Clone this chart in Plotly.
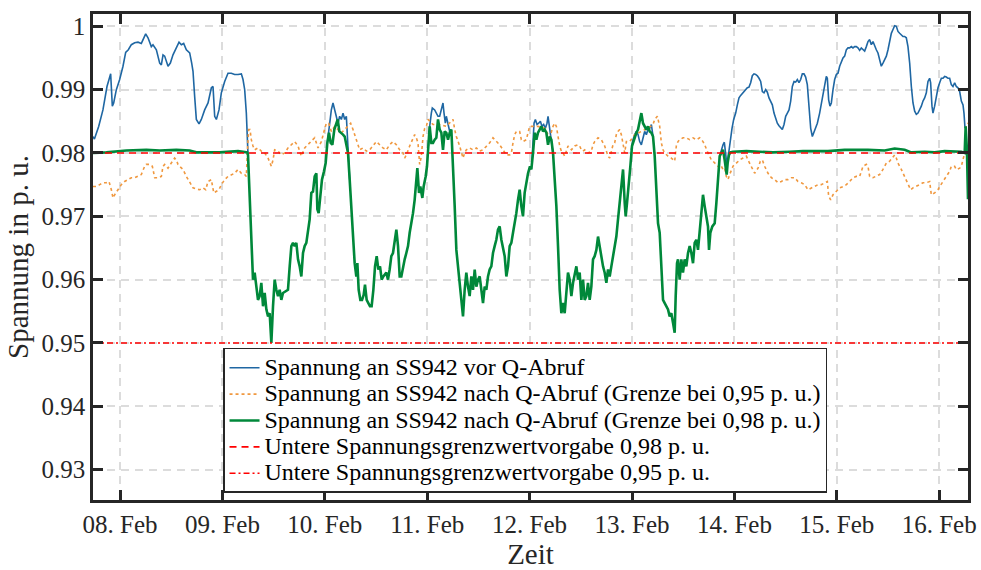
import datetime as dt
import plotly.graph_objects as go

# ---------------- data (hours relative to 08 Feb 00:00, voltage in p.u.) ----------------
blue_seg_hours = [
    [-6.33, -6.0, -5.0, -4.0, -3.05, -2.42, -2.19, -1.8, -1.48, -0.86,
     -0.08, 0.70, 1.33, 1.95, 2.66, 3.44, 4.22, 5.0, 5.39, 6.02,
     6.56, 7.34, 7.73, 8.52, 9.3, 9.69, 10.08, 10.47, 11.25, 11.8,
     12.42, 13.2, 13.83, 14.38, 14.92, 15.55, 16.33, 16.8, 17.11, 17.5,
     17.89, 18.52, 19.06, 19.84, 20.63, 21.41, 21.8, 22.19, 22.58, 23.2,
     23.75, 24.53, 25.31, 26.09, 26.87, 27.66, 28.44, 28.83, 29.22, 29.61,
     29.84, 30.0],
    [48.59, 49.14, 49.53, 49.92, 50.31, 50.7, 51.09, 51.48, 51.88, 52.27,
     52.66, 53.05, 53.44, 53.83],
    [72.27, 72.58, 72.97, 73.2, 73.75, 74.14, 74.53, 74.92, 75.31, 75.7,
     75.94, 76.25, 76.48, 76.88, 77.27, 77.66],
    [96.57, 97.04, 97.35, 97.74, 98.13, 98.52, 98.91, 99.3, 99.69, 100.08,
     100.32, 100.55, 100.86, 101.25, 101.57],
    [119.85, 120.24, 120.63, 121.02, 121.41, 121.8, 122.19, 122.58, 122.97, 123.36,
     123.75, 124.15, 124.54, 124.93],
    [140.55, 140.94, 141.33, 141.64, 141.95, 142.27, 142.66, 143.05, 143.44, 143.83,
     144.3, 144.69, 145.08, 145.47, 145.86, 146.25, 146.64, 147.03, 147.42, 147.81,
     148.2, 148.59, 148.98, 149.38, 149.77, 150.16, 150.55, 150.94, 151.33, 151.72,
     152.11, 152.5, 152.89, 153.28, 153.67, 154.06, 154.45, 154.84, 155.23, 155.63,
     156.02, 156.41, 156.8, 157.19, 157.58, 157.97, 158.36, 158.75, 159.14, 159.53,
     159.92, 160.31, 160.7, 161.09, 161.48, 161.88, 162.27, 162.66, 163.05, 163.44,
     163.98, 164.37, 164.76, 165.15, 165.54, 165.78, 166.09, 166.4, 166.72, 167.11,
     167.5, 167.89, 168.28, 168.67, 169.06, 169.45, 169.84, 170.23, 170.62, 171.01,
     171.4, 171.79, 172.18, 172.57, 172.96, 173.36, 173.75, 174.14, 174.53, 174.92,
     175.31, 175.7, 176.09, 176.48, 176.87, 177.26, 177.65, 178.04, 178.43, 178.82,
     179.22, 179.61, 180.0, 180.39, 180.78, 181.17, 181.56, 181.95, 182.34, 182.73,
     183.12, 183.51, 183.9, 184.29, 184.68, 185.08, 185.47, 185.86, 186.25, 186.64,
     187.03, 187.42, 187.81, 188.2, 188.59, 188.98, 189.37, 189.76, 189.99, 190.31,
     190.54, 190.93, 191.33, 191.72, 192.11, 192.5, 192.89, 193.28, 193.67, 194.06,
     194.45, 194.84, 195.23, 195.62, 196.01, 196.4, 196.8, 197.19, 197.58, 197.81,
     198.05],
]
blue_seg_values = [
    [0.9826, 0.9822, 0.9842, 0.9868, 0.9905, 0.9921, 0.9925, 0.9874, 0.9879, 0.9900,
     0.9916, 0.9937, 0.9959, 0.9963, 0.9971, 0.9974, 0.9975, 0.9973, 0.9978, 0.9988,
     0.9982, 0.9968, 0.9971, 0.9963, 0.9942, 0.9939, 0.9955, 0.9953, 0.9937, 0.9942,
     0.9955, 0.9966, 0.9975, 0.9971, 0.9973, 0.9963, 0.9958, 0.9942, 0.9929, 0.9889,
     0.9853, 0.9846, 0.9853, 0.9868, 0.9879, 0.9903, 0.9905, 0.9858, 0.9853, 0.9868,
     0.9895, 0.9913, 0.9926, 0.9926, 0.9924, 0.9924, 0.9925, 0.9916, 0.9900, 0.9863,
     0.9811, 0.9797],
    [0.9816, 0.9847, 0.9868, 0.9879, 0.9868, 0.9853, 0.9847, 0.9858, 0.9853, 0.9863,
     0.9853, 0.9858, 0.9811, 0.9758],
    [0.9811, 0.9842, 0.9863, 0.9871, 0.9868, 0.9863, 0.9858, 0.9858, 0.9868, 0.9879,
     0.9863, 0.9847, 0.9858, 0.9847, 0.9834, 0.9837],
    [0.9789, 0.9847, 0.9853, 0.9845, 0.9847, 0.9850, 0.9842, 0.9845, 0.9839, 0.9847,
     0.9858, 0.9847, 0.9834, 0.9816, 0.9795],
    [0.9805, 0.9821, 0.9829, 0.9834, 0.9829, 0.9818, 0.9813, 0.9826, 0.9834, 0.9829,
     0.9837, 0.9839, 0.9845, 0.9826],
    [0.9795, 0.9805, 0.9813, 0.9817, 0.9800, 0.9780, 0.9800, 0.9821, 0.9839, 0.9853,
     0.9863, 0.9876, 0.9887, 0.9891, 0.9894, 0.9896, 0.9899, 0.9903, 0.9904, 0.9911,
     0.9922, 0.9925, 0.9924, 0.9922, 0.9918, 0.9913, 0.9897, 0.9895, 0.9900, 0.9896,
     0.9887, 0.9882, 0.9876, 0.9863, 0.9853, 0.9847, 0.9843, 0.9839, 0.9837, 0.9845,
     0.9858, 0.9863, 0.9868, 0.9882, 0.9905, 0.9913, 0.9912, 0.9916, 0.9911, 0.9916,
     0.9925, 0.9925, 0.9920, 0.9908, 0.9874, 0.9839, 0.9826, 0.9834, 0.9841, 0.9847,
     0.9863, 0.9879, 0.9895, 0.9911, 0.9921, 0.9918, 0.9884, 0.9874, 0.9879, 0.9900,
     0.9916, 0.9924, 0.9926, 0.9937, 0.9945, 0.9950, 0.9953, 0.9963, 0.9966, 0.9966,
     0.9968, 0.9966, 0.9968, 0.9968, 0.9966, 0.9962, 0.9966, 0.9963, 0.9961, 0.9968,
     0.9976, 0.9979, 0.9971, 0.9976, 0.9968, 0.9963, 0.9958, 0.9947, 0.9937, 0.9942,
     0.9947, 0.9953, 0.9963, 0.9979, 0.9989, 0.9995, 1.0001, 1.0000, 0.9992, 0.9989,
     0.9987, 0.9984, 0.9984, 0.9982, 0.9968, 0.9942, 0.9905, 0.9879, 0.9866, 0.9861,
     0.9863, 0.9868, 0.9874, 0.9882, 0.9887, 0.9895, 0.9913, 0.9918, 0.9911, 0.9874,
     0.9863, 0.9874, 0.9889, 0.9903, 0.9911, 0.9918, 0.9918, 0.9921, 0.9920, 0.9918,
     0.9918, 0.9908, 0.9905, 0.9911, 0.9905, 0.9903, 0.9897, 0.9882, 0.9876, 0.9863,
     0.9839],
]

orange_hours = [
    -6.33, -5.55, -4.77, -3.98, -3.2, -2.58, -2.03, -1.64, -1.25, -0.47,
    0.31, 1.09, 1.87, 2.66, 3.44, 4.22, 5.0, 5.78, 6.17, 6.95,
    7.58, 8.13, 8.91, 9.69, 10.08, 10.47, 11.25, 11.8, 12.42, 12.81,
    13.2, 13.59, 13.98, 14.77, 15.55, 16.33, 17.11, 17.89, 18.67, 19.45,
    20.08, 20.63, 21.41, 21.97, 22.58, 23.2, 23.75, 24.53, 25.31, 26.09,
    26.87, 27.66, 28.44, 29.22, 29.61, 29.84, 30.16, 30.47, 30.78, 31.17,
    31.56, 32.34, 33.12, 33.91, 34.69, 35.47, 35.86, 36.25, 37.03, 37.81,
    38.59, 39.37, 40.16, 40.94, 41.72, 42.5, 43.28, 44.06, 44.84, 45.63,
    46.41, 47.19, 47.81, 48.36, 48.91, 49.53, 50.31, 51.09, 51.88, 52.66,
    53.44, 54.06, 54.61, 55.39, 56.17, 56.95, 57.73, 58.52, 59.3, 60.08,
    60.86, 61.64, 62.42, 63.2, 63.98, 64.77, 65.55, 66.33, 66.72, 67.11,
    67.89, 68.67, 69.06, 69.45, 69.84, 70.23, 70.63, 71.02, 71.41, 71.8,
    72.19, 73.36, 74.92, 76.48, 77.66, 78.05, 78.44, 78.83, 79.61, 80.39,
    80.78, 81.17, 81.95, 82.73, 83.52, 84.3, 85.08, 85.86, 86.64, 87.42,
    88.2, 88.98, 89.77, 90.55, 91.33, 91.72, 92.11, 92.5, 92.89, 93.67,
    94.06, 94.45, 95.23, 96.0, 96.41, 97.97, 99.53, 100.71, 101.49, 101.88,
    102.27, 102.66, 103.05, 103.44, 103.83, 104.22, 104.61, 105.0, 105.39, 105.79,
    106.57, 107.35, 107.74, 108.13, 108.52, 108.91, 109.69, 110.47, 110.86, 111.25,
    112.04, 112.82, 113.6, 114.38, 114.77, 115.16, 115.55, 115.94, 116.33, 116.72,
    117.11, 117.5, 117.9, 118.29, 118.68, 119.46, 120.63, 122.19, 123.75, 124.93,
    125.32, 125.94, 126.49, 126.88, 127.27, 127.66, 128.44, 129.22, 130.0, 130.39,
    130.78, 131.17, 131.95, 132.73, 133.52, 134.3, 135.08, 135.86, 136.25, 136.64,
    137.03, 137.42, 137.81, 138.2, 138.59, 138.98, 139.38, 139.77, 140.16, 140.55,
    140.94, 141.33, 141.72, 142.11, 142.5, 142.89, 143.28, 143.67, 144.45, 145.23,
    146.02, 146.8, 147.19, 147.97, 148.75, 149.53, 150.08, 150.55, 151.09, 151.88,
    152.66, 153.44, 154.22, 155.0, 155.78, 156.56, 157.34, 158.13, 158.91, 159.69,
    160.47, 161.25, 162.03, 162.81, 163.59, 164.37, 165.15, 165.78, 166.09, 166.56,
    167.11, 167.89, 168.67, 169.45, 170.23, 171.01, 171.79, 172.57, 173.36, 174.14,
    174.92, 175.31, 175.7, 176.48, 177.26, 178.04, 178.82, 179.61, 180.39, 181.17,
    181.56, 181.95, 182.34, 183.12, 183.9, 184.68, 185.31, 185.86, 186.64, 187.42,
    188.2, 188.98, 189.76, 190.15, 190.93, 191.72, 192.11, 192.89, 193.67, 194.45,
    194.84, 195.62, 196.01, 196.8, 197.19, 197.58, 197.97, 198.36, 198.75,
]
orange_values = [
    0.9747, 0.9747, 0.9750, 0.9753, 0.9753, 0.9755, 0.9742, 0.9729, 0.9734, 0.9742,
    0.9750, 0.9755, 0.9758, 0.9761, 0.9761, 0.9763, 0.9766, 0.9779, 0.9782, 0.9782,
    0.9779, 0.9761, 0.9761, 0.9763, 0.9779, 0.9782, 0.9776, 0.9782, 0.9789, 0.9792,
    0.9789, 0.9782, 0.9779, 0.9774, 0.9763, 0.9755, 0.9745, 0.9743, 0.9742, 0.9745,
    0.9742, 0.9755, 0.9758, 0.9737, 0.9739, 0.9742, 0.9750, 0.9758, 0.9763, 0.9766,
    0.9768, 0.9774, 0.9768, 0.9766, 0.9763, 0.9800, 0.9837, 0.9837, 0.9821, 0.9811,
    0.9805, 0.9808, 0.9803, 0.9800, 0.9792, 0.9779, 0.9789, 0.9805, 0.9803, 0.9797,
    0.9800, 0.9808, 0.9813, 0.9818, 0.9811, 0.9795, 0.9808, 0.9813, 0.9818, 0.9824,
    0.9808, 0.9818, 0.9834, 0.9847, 0.9847, 0.9834, 0.9842, 0.9837, 0.9832, 0.9837,
    0.9842, 0.9847, 0.9837, 0.9821, 0.9805, 0.9808, 0.9803, 0.9805, 0.9811, 0.9818,
    0.9813, 0.9808, 0.9805, 0.9813, 0.9818, 0.9813, 0.9805, 0.9800, 0.9792, 0.9797,
    0.9811, 0.9824, 0.9829, 0.9824, 0.9816, 0.9782, 0.9795, 0.9826, 0.9839, 0.9842,
    0.9853, 0.9845, 0.9845, 0.9842, 0.9850, 0.9853, 0.9837, 0.9826, 0.9811, 0.9792,
    0.9800, 0.9805, 0.9808, 0.9805, 0.9808, 0.9803, 0.9805, 0.9811, 0.9816, 0.9824,
    0.9818, 0.9813, 0.9805, 0.9797, 0.9797, 0.9800, 0.9816, 0.9829, 0.9834, 0.9834,
    0.9821, 0.9818, 0.9821, 0.9842, 0.9842, 0.9842, 0.9839, 0.9824, 0.9842, 0.9847,
    0.9842, 0.9826, 0.9811, 0.9803, 0.9800, 0.9795, 0.9805, 0.9811, 0.9808, 0.9805,
    0.9811, 0.9813, 0.9811, 0.9805, 0.9803, 0.9805, 0.9800, 0.9803, 0.9813, 0.9818,
    0.9824, 0.9821, 0.9811, 0.9795, 0.9792, 0.9803, 0.9813, 0.9816, 0.9829, 0.9834,
    0.9837, 0.9829, 0.9816, 0.9800, 0.9818, 0.9818, 0.9829, 0.9834, 0.9839, 0.9845,
    0.9853, 0.9858, 0.9842, 0.9816, 0.9805, 0.9800, 0.9795, 0.9792, 0.9787, 0.9811,
    0.9818, 0.9821, 0.9824, 0.9824, 0.9821, 0.9824, 0.9821, 0.9824, 0.9821, 0.9818,
    0.9813, 0.9805, 0.9800, 0.9795, 0.9789, 0.9787, 0.9784, 0.9782, 0.9779, 0.9782,
    0.9779, 0.9774, 0.9776, 0.9763, 0.9758, 0.9766, 0.9774, 0.9779, 0.9784, 0.9789,
    0.9792, 0.9795, 0.9789, 0.9779, 0.9768, 0.9776, 0.9787, 0.9789, 0.9779, 0.9768,
    0.9761, 0.9758, 0.9753, 0.9755, 0.9758, 0.9758, 0.9761, 0.9761, 0.9755, 0.9753,
    0.9750, 0.9742, 0.9745, 0.9747, 0.9750, 0.9750, 0.9753, 0.9755, 0.9732, 0.9726,
    0.9734, 0.9739, 0.9745, 0.9747, 0.9750, 0.9755, 0.9761, 0.9763, 0.9763, 0.9779,
    0.9782, 0.9779, 0.9763, 0.9761, 0.9763, 0.9766, 0.9774, 0.9784, 0.9787, 0.9795,
    0.9797, 0.9792, 0.9784, 0.9774, 0.9763, 0.9753, 0.9742, 0.9745, 0.9747, 0.9750,
    0.9753, 0.9753, 0.9755, 0.9734, 0.9737, 0.9742, 0.9747, 0.9755, 0.9763, 0.9771,
    0.9779, 0.9779, 0.9774, 0.9776, 0.9779, 0.9789, 0.9800, 0.9845, 0.9847,
]

green_hours = [
    -6.33, -3.2, 1.48, 6.17, 9.3, 13.2, 16.33, 17.89, 20.23, 23.36,
    27.66, 29.84, 30.0, 30.39, 30.78, 31.17, 31.56, 31.95, 32.34, 32.73,
    33.12, 33.52, 33.91, 34.3, 34.69, 35.08, 35.47, 35.86, 36.25, 36.64,
    37.03, 37.42, 37.81, 38.2, 38.98, 39.37, 39.77, 40.16, 40.55, 40.94,
    41.33, 41.72, 42.11, 42.5, 42.89, 43.28, 43.67, 44.06, 44.45, 44.84,
    45.23, 45.63, 46.02, 46.25, 46.56, 46.95, 47.34, 47.81, 48.2, 48.59,
    48.98, 49.38, 49.77, 50.23, 50.63, 51.02, 51.41, 51.88, 52.27, 52.66,
    53.05, 53.44, 53.83, 54.22, 54.61, 55.0, 55.39, 55.63, 55.94, 56.33,
    56.72, 57.11, 57.42, 57.81, 58.2, 58.59, 58.98, 59.38, 59.77, 60.16,
    60.55, 60.94, 61.33, 61.72, 62.42, 62.81, 63.2, 63.59, 63.98, 64.38,
    64.77, 65.16, 65.55, 65.94, 66.33, 66.72, 67.11, 67.5, 67.89, 68.28,
    68.67, 69.06, 69.45, 69.69, 70.08, 70.39, 70.86, 71.17, 71.64, 71.95,
    72.27, 72.58, 72.97, 73.36, 73.75, 74.14, 74.53, 74.92, 75.31, 75.7,
    76.09, 76.48, 76.88, 77.27, 77.66, 78.05, 78.44, 78.83, 79.22, 79.61,
    80.0, 80.39, 80.78, 81.17, 81.56, 81.95, 82.34, 82.73, 83.13, 83.52,
    83.91, 84.3, 84.69, 85.08, 85.47, 85.86, 86.25, 86.64, 87.03, 87.42,
    87.81, 88.2, 88.59, 88.98, 89.38, 89.77, 90.16, 90.55, 90.94, 91.33,
    91.72, 92.11, 92.5, 92.89, 93.28, 93.67, 94.06, 94.45, 94.84, 95.23,
    95.63, 96.09, 96.41, 96.8, 97.19, 97.58, 97.97, 98.36, 98.75, 99.14,
    99.53, 99.93, 100.32, 100.71, 101.1, 101.49, 101.88, 102.27, 102.66, 103.05,
    103.44, 103.83, 104.22, 104.61, 105.0, 105.39, 105.79, 106.18, 106.57, 106.96,
    107.35, 107.74, 108.13, 108.52, 108.91, 109.3, 109.69, 110.08, 110.47, 110.86,
    111.25, 111.65, 112.04, 112.43, 112.82, 113.21, 113.6, 113.99, 114.38, 114.77,
    115.16, 115.55, 115.94, 116.33, 116.72, 117.11, 117.5, 117.9, 118.29, 118.52,
    118.83, 119.22, 119.61, 120.0, 120.4, 120.63, 121.02, 121.41, 121.8, 122.19,
    122.58, 122.97, 123.36, 123.75, 124.15, 124.54, 124.93, 125.32, 125.71, 126.1,
    126.49, 126.88, 127.27, 127.66, 128.05, 128.44, 128.83, 129.22, 129.61, 130.0,
    130.24, 130.55, 130.78, 131.17, 131.56, 131.95, 132.34, 132.73, 133.13, 133.52,
    133.91, 134.3, 134.69, 135.08, 135.47, 135.86, 136.25, 136.64, 137.03, 137.42,
    137.81, 138.05, 138.36, 138.83, 139.38, 139.77, 140.16, 140.55, 140.94, 141.33,
    141.72, 141.95, 142.19, 142.42, 142.73, 143.05, 143.67, 146.8, 153.05, 156.95,
    160.08, 165.93, 169.84, 175.31, 179.22, 181.56, 183.9, 185.47, 188.59, 190.93,
    193.28, 197.19, 197.97, 198.2, 198.5, 198.75,
]
green_values = [
    0.9800, 0.9801, 0.9804, 0.9805, 0.9804, 0.9805, 0.9804, 0.9801, 0.9801, 0.9801,
    0.9803, 0.9801, 0.9797, 0.9732, 0.9653, 0.9600, 0.9611, 0.9584, 0.9568, 0.9574,
    0.9595, 0.9558, 0.9579, 0.9553, 0.9542, 0.9547, 0.9500, 0.9558, 0.9600, 0.9584,
    0.9574, 0.9584, 0.9568, 0.9579, 0.9582, 0.9584, 0.9621, 0.9653, 0.9658, 0.9653,
    0.9658, 0.9632, 0.9621, 0.9605, 0.9642, 0.9653, 0.9658, 0.9679, 0.9695, 0.9737,
    0.9739, 0.9763, 0.9768, 0.9711, 0.9705, 0.9732, 0.9758, 0.9771, 0.9784, 0.9816,
    0.9832, 0.9816, 0.9813, 0.9837, 0.9847, 0.9853, 0.9834, 0.9832, 0.9829, 0.9826,
    0.9811, 0.9800, 0.9758, 0.9716, 0.9663, 0.9626, 0.9605, 0.9626, 0.9584, 0.9568,
    0.9568, 0.9576, 0.9592, 0.9568, 0.9563, 0.9558, 0.9558, 0.9584, 0.9621, 0.9637,
    0.9616, 0.9621, 0.9600, 0.9605, 0.9611, 0.9600, 0.9616, 0.9637, 0.9642, 0.9663,
    0.9679, 0.9653, 0.9605, 0.9605, 0.9621, 0.9632, 0.9642, 0.9653, 0.9674, 0.9689,
    0.9705, 0.9726, 0.9768, 0.9776, 0.9737, 0.9747, 0.9729, 0.9747, 0.9763, 0.9779,
    0.9811, 0.9842, 0.9816, 0.9816, 0.9821, 0.9824, 0.9853, 0.9837, 0.9832, 0.9805,
    0.9834, 0.9832, 0.9821, 0.9832, 0.9837, 0.9784, 0.9716, 0.9647, 0.9621, 0.9584,
    0.9568, 0.9542, 0.9584, 0.9611, 0.9589, 0.9574, 0.9605, 0.9584, 0.9616, 0.9589,
    0.9600, 0.9605, 0.9584, 0.9563, 0.9589, 0.9584, 0.9605, 0.9616, 0.9621, 0.9642,
    0.9653, 0.9663, 0.9679, 0.9684, 0.9663, 0.9647, 0.9637, 0.9605, 0.9621, 0.9653,
    0.9658, 0.9674, 0.9689, 0.9705, 0.9726, 0.9742, 0.9716, 0.9700, 0.9737, 0.9753,
    0.9768, 0.9779, 0.9774, 0.9800, 0.9832, 0.9821, 0.9832, 0.9837, 0.9842, 0.9834,
    0.9837, 0.9832, 0.9813, 0.9826, 0.9821, 0.9800, 0.9758, 0.9716, 0.9653, 0.9584,
    0.9547, 0.9563, 0.9547, 0.9574, 0.9611, 0.9600, 0.9574, 0.9595, 0.9611, 0.9621,
    0.9600, 0.9611, 0.9568, 0.9600, 0.9568, 0.9574, 0.9595, 0.9568, 0.9589, 0.9632,
    0.9637, 0.9647, 0.9668, 0.9653, 0.9632, 0.9621, 0.9611, 0.9595, 0.9616, 0.9605,
    0.9621, 0.9637, 0.9658, 0.9668, 0.9695, 0.9721, 0.9742, 0.9774, 0.9721, 0.9700,
    0.9721, 0.9758, 0.9779, 0.9811, 0.9821, 0.9826, 0.9832, 0.9837, 0.9853, 0.9863,
    0.9847, 0.9842, 0.9837, 0.9842, 0.9834, 0.9832, 0.9826, 0.9795, 0.9747, 0.9689,
    0.9674, 0.9621, 0.9568, 0.9563, 0.9558, 0.9553, 0.9542, 0.9547, 0.9532, 0.9516,
    0.9574, 0.9626, 0.9632, 0.9600, 0.9632, 0.9611, 0.9632, 0.9621, 0.9642, 0.9653,
    0.9642, 0.9626, 0.9658, 0.9663, 0.9647, 0.9679, 0.9700, 0.9734, 0.9716, 0.9700,
    0.9684, 0.9647, 0.9674, 0.9684, 0.9689, 0.9721, 0.9758, 0.9795, 0.9800, 0.9805,
    0.9789, 0.9779, 0.9766, 0.9784, 0.9797, 0.9801, 0.9802, 0.9803, 0.9801, 0.9802,
    0.9803, 0.9803, 0.9805, 0.9805, 0.9804, 0.9807, 0.9805, 0.9801, 0.9802, 0.9801,
    0.9803, 0.9802, 0.9800, 0.9842, 0.9805, 0.9727,
]

limit_98 = 0.98
limit_95 = 0.95
x_span_hours = [-6.33, 198.75]

day_ticks = ["2021-02-08", "2021-02-09", "2021-02-10", "2021-02-11", "2021-02-12",
             "2021-02-13", "2021-02-14", "2021-02-15", "2021-02-16"]
day_labels = ["08. Feb", "09. Feb", "10. Feb", "11. Feb", "12. Feb",
              "13. Feb", "14. Feb", "15. Feb", "16. Feb"]
y_ticks = [0.93, 0.94, 0.95, 0.96, 0.97, 0.98, 0.99, 1.0]
y_labels = ["0.93", "0.94", "0.95", "0.96", "0.97", "0.98", "0.99", "1"]

names = [
    "Spannung an SS942 vor Q-Abruf",
    "Spannung an SS942 nach Q-Abruf (Grenze bei 0,95 p. u.)",
    "Spannung an SS942 nach Q-Abruf (Grenze bei 0,98 p. u.)",
    "Untere Spannungsgrenzwertvorgabe 0,98 p. u.",
    "Untere Spannungsgrenzwertvorgabe 0,95 p. u.",
]

# ---------------- helpers ----------------
BASE = dt.datetime(2021, 2, 8)


def to_dt(h):
    return BASE + dt.timedelta(hours=h)


def legend_name(s):
    return '<span style="font-size:24px">' + s + "</span>"


blue_x, blue_y = [], []
for hs, vs in zip(blue_seg_hours, blue_seg_values, strict=True):
    blue_x += [to_dt(h) for h in hs] + [None]
    blue_y += list(vs) + [None]

assert len(orange_hours) == len(orange_values), (len(orange_hours), len(orange_values))
assert len(green_hours) == len(green_values), (len(green_hours), len(green_values))

FONT = "Liberation Serif"
INK = "#262626"

fig = go.Figure()
fig.add_trace(go.Scatter(x=blue_x, y=blue_y, mode="lines", name=legend_name(names[0]),
                         line=dict(color="#1f67a3", width=1.6), connectgaps=False))
fig.add_trace(go.Scatter(x=[to_dt(h) for h in orange_hours], y=orange_values, mode="lines",
                         name=legend_name(names[1]),
                         line=dict(color="#f0983f", width=1.6, dash="dot")))
fig.add_trace(go.Scatter(x=[to_dt(h) for h in green_hours], y=green_values, mode="lines",
                         name=legend_name(names[2]), line=dict(color="#00883a", width=2.6)))
fig.add_trace(go.Scatter(x=[to_dt(h) for h in x_span_hours], y=[limit_98, limit_98], mode="lines",
                         name=legend_name(names[3]),
                         line=dict(color="#ff0000", width=1.6, dash="7px,5px")))
fig.add_trace(go.Scatter(x=[to_dt(h) for h in x_span_hours], y=[limit_95, limit_95], mode="lines",
                         name=legend_name(names[4]),
                         line=dict(color="#ff0000", width=1.6, dash="6px,3px,2px,3px")))

axis_common = dict(
    showline=True, linecolor=INK, linewidth=2.5, mirror="ticks",
    ticks="inside", tickcolor=INK, tickwidth=2.5, ticklen=10,
    showgrid=True, gridcolor="#dcdcdc", gridwidth=1.5, griddash="8px,6px",
    zeroline=False, automargin=False,
    tickfont=dict(family=FONT, size=25, color=INK),
)

fig.update_xaxes(
    **axis_common,
    type="date",
    range=[to_dt(x_span_hours[0]), to_dt(x_span_hours[1])],
    tickmode="array", tickvals=day_ticks, ticktext=day_labels,
    title=dict(text="Zeit", font=dict(family=FONT, size=29, color=INK), standoff=3),
)
fig.update_yaxes(
    **axis_common,
    range=[0.92520, 1.00195],
    tickmode="array", tickvals=y_ticks, ticktext=y_labels,
    title=dict(text="Spannung in p. u.", font=dict(family=FONT, size=29, color=INK), standoff=5),
)

fig.update_layout(
    width=981, height=570,
    margin=dict(l=93, r=13, t=14, b=70),
    paper_bgcolor="white", plot_bgcolor="white",
    font=dict(family=FONT, size=20, color="black"),
    showlegend=True,
    legend=dict(
        x=0.1486, y=0.3128, xanchor="left", yanchor="top",
        bgcolor="white", bordercolor=INK, borderwidth=1.5,
        font=dict(family=FONT, size=18, color="black"),
        tracegroupgap=0, itemwidth=30,
    ),
)

fig.write_html(
    "out.html",
    config={"displayModeBar": False},
    post_script="document.body.style.margin='0px';document.documentElement.style.overflow='hidden';",
)
